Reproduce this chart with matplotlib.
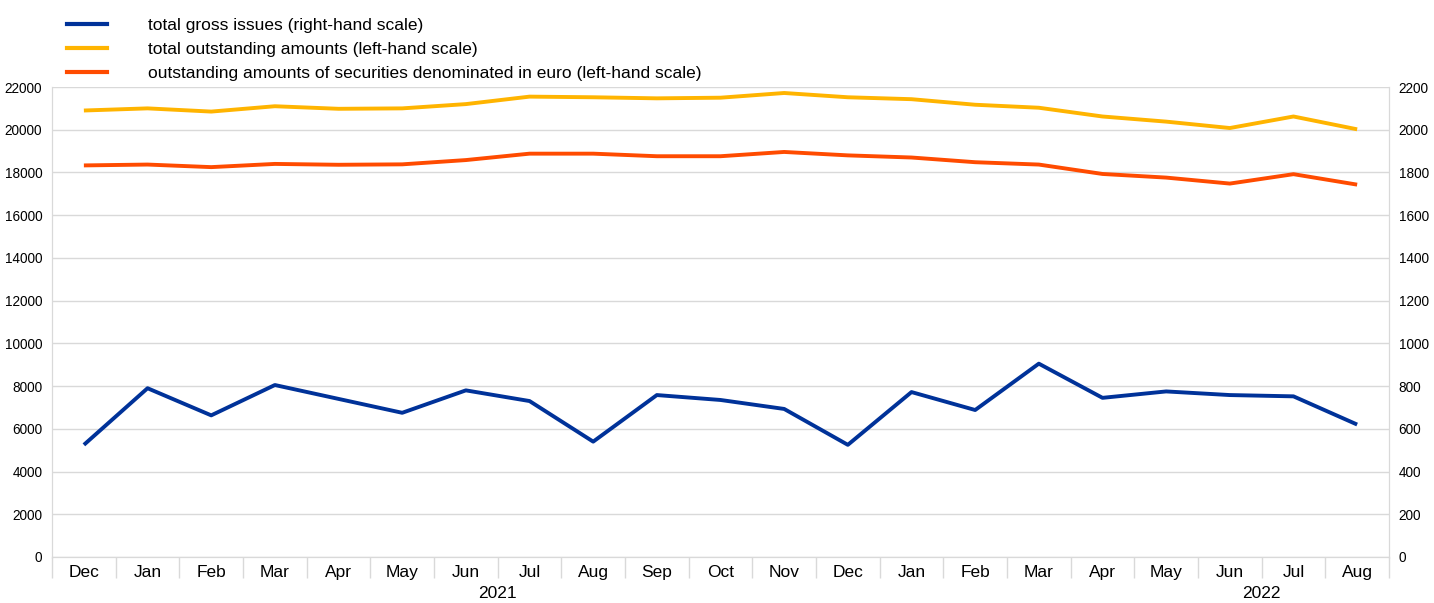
import matplotlib.pyplot as plt
from matplotlib.lines import Line2D
import matplotlib.transforms as mtransforms

plt.rcParams['font.family'] = ['Liberation Sans', 'DejaVu Sans']

months = ['Dec', 'Jan', 'Feb', 'Mar', 'Apr', 'May', 'Jun', 'Jul', 'Aug', 'Sep', 'Oct',
          'Nov', 'Dec', 'Jan', 'Feb', 'Mar', 'Apr', 'May', 'Jun', 'Jul', 'Aug']
years = ['2021', '2022']
year_pos = [6.5, 18.5]

# left-hand scale
total_outstanding = [20900, 21000, 20850, 21100, 20980, 21000, 21200, 21550, 21520, 21470, 21500,
                     21720, 21520, 21430, 21170, 21030, 20620, 20380, 20080, 20620, 20020]
euro_outstanding = [18330, 18370, 18250, 18400, 18360, 18380, 18580, 18880, 18880, 18760, 18760,
                    18960, 18800, 18700, 18480, 18370, 17930, 17760, 17480, 17920, 17430]
# right-hand scale
gross_issues = [525, 790, 663, 805, 740, 675, 780, 730, 540, 758, 735,
                693, 525, 772, 688, 905, 745, 775, 758, 752, 620]

blue = '#003299'
yellow = '#ffb400'
orange = '#ff4b00'
grid_c = '#d9d9d9'

fig = plt.figure(figsize=(14.34, 6.03), dpi=100)
ax = fig.add_axes([0.0363, 0.0763, 0.9323, 0.7794])
ax2 = ax.twinx()

x = list(range(len(months)))
ax.plot(x, total_outstanding, color=yellow, lw=2.8, solid_capstyle='butt', zorder=3)
ax.plot(x, euro_outstanding, color=orange, lw=2.8, solid_capstyle='butt', zorder=3)
ax2.plot(x, gross_issues, color=blue, lw=2.8, solid_capstyle='butt', zorder=3)

ax.set_xlim(-0.5, len(months) - 0.5)
ax.set_ylim(0, 22000)
ax2.set_ylim(0, 2200)
ax.set_yticks(range(0, 22001, 2000))
ax2.set_yticks(range(0, 2201, 200))
ax.yaxis.grid(True, color=grid_c, lw=1)
ax.set_axisbelow(True)

ax.set_xticks(x)
ax.set_xticklabels(months, fontsize=12.5)
ax.set_xticks([i - 0.5 for i in range(len(months) + 1)], minor=True)
ax.tick_params(axis='x', which='major', length=0, pad=6)
ax.tick_params(axis='x', which='minor', length=15, color=grid_c, width=1)
ax.tick_params(axis='y', length=0, labelsize=9.8, pad=7)
ax2.tick_params(axis='y', length=0, labelsize=9.8, pad=7)

for a in (ax, ax2):
    a.spines['top'].set_visible(False)
    for s in ('left', 'right', 'bottom'):
        a.spines[s].set_color(grid_c)

trans = mtransforms.blended_transform_factory(ax.transData, fig.transFigure)
for yr, p in zip(years, year_pos):
    ax.text(p, 0.003, yr, transform=trans, ha='center', va='bottom', fontsize=12.5)

handles = [Line2D([], [], color=blue, lw=3),
           Line2D([], [], color=yellow, lw=3),
           Line2D([], [], color=orange, lw=3)]
labels = ['total gross issues (right-hand scale)',
          'total outstanding amounts (left-hand scale)',
          'outstanding amounts of securities denominated in euro (left-hand scale)']
fig.legend(handles, labels, loc='upper left', bbox_to_anchor=(0.038, 0.99), frameon=False,
           fontsize=12.5, handlelength=2.3, handletextpad=2.4, labelspacing=0.5,
           borderaxespad=0.3)

fig.savefig('out.png', dpi=100)
